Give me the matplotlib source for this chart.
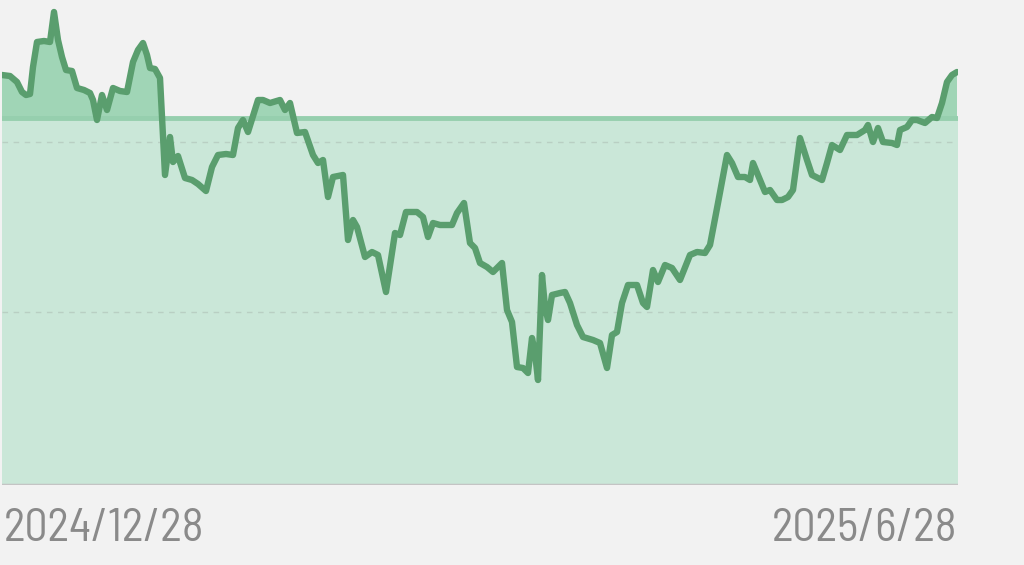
import matplotlib
matplotlib.use("Agg")
import matplotlib.pyplot as plt
import numpy as np

# ---- data (time in chart units across 2024/12/28 .. 2025/6/28, value = price level) ----
t = [2, 10, 17, 22, 26, 30, 33, 37, 44, 50, 54, 58, 62, 66, 72, 77, 84, 90, 93, 97,
     102, 107, 113, 120, 127, 133, 138, 143, 147, 150, 155, 160, 165, 170, 173, 178, 185, 192, 198, 206,
     212, 218, 226, 233, 238, 243, 248, 258, 263, 270, 280, 285, 290, 297, 305, 313, 318, 323, 328, 333,
     343, 348, 353, 357, 365, 372, 378, 386, 395, 400, 406, 417, 423, 428, 433, 440, 452, 457, 464, 470,
     475, 480, 487, 493, 502, 507, 512, 517, 523, 528, 532, 535, 538, 542, 545, 548, 552, 560, 565, 570,
     577, 583, 593, 600, 607, 612, 617, 622, 628, 637, 643, 647, 653, 658, 665, 672, 680, 690, 697, 705,
     710, 718, 727, 732, 738, 745, 750, 753, 760, 765, 770, 777, 782, 788, 793, 800, 807, 812, 822, 827,
     832, 840, 847, 857, 865, 868, 873, 878, 883, 892, 897, 900, 907, 912, 917, 925, 932, 937, 942, 947,
     952, 957]
y_px = [75, 76, 82, 92, 95, 94, 67, 42, 41, 42, 12, 40, 57, 70, 71, 88, 90, 93, 100, 120,
        95, 110, 88, 91, 92, 62, 50, 43, 55, 68, 69, 78, 175, 137, 162, 156, 178, 180, 184, 191,
        167, 155, 154, 155, 128, 120, 132, 100, 100, 103, 100, 110, 103, 133, 132, 155, 163, 160, 197, 177,
        175, 240, 220, 227, 257, 252, 255, 292, 233, 235, 212, 212, 217, 237, 223, 225, 225, 213, 203, 243,
        248, 263, 267, 272, 263, 310, 322, 367, 368, 373, 338, 353, 380, 275, 307, 320, 295, 293, 292, 303,
        325, 337, 340, 343, 368, 335, 332, 303, 285, 285, 303, 307, 270, 282, 265, 268, 280, 255, 252, 253,
        245, 203, 155, 163, 177, 177, 180, 163, 180, 192, 190, 200, 200, 197, 190, 138, 160, 175, 180, 163,
        145, 150, 135, 135, 130, 125, 142, 128, 142, 143, 145, 130, 127, 120, 120, 123, 117, 118, 103, 82,
        75, 72]
price = [(485 - v) / 10 for v in y_px]
ref_price = (485 - 118) / 10
grid_prices = [(485 - 142) / 10, (485 - 312) / 10]
t_start, t_end = 2, 958
label_start = "2024/12/28"
label_end = "2025/6/28"

# ---- styling ----
line_c = "#5a9e6e"
light_fill = "#cae7d8"
dark_fill = "#a0d5b6"
ref_c = "#96cfae"
bg = "#f2f2f2"
text_c = "#8a8a8a"

fig = plt.figure(figsize=(10.24, 5.65), dpi=100, facecolor=bg)
ax = fig.add_axes([t_start / 1024, (565 - 485) / 565, (t_end - t_start) / 1024, 485 / 565])
ax.set_facecolor(bg)
ax.set_xlim(t_start, t_end)
ax.set_ylim(0, 48.5)

tt = np.array(t, dtype=float)
pp = np.array(price)
ax.fill_between([t_start, t_end], 0, ref_price, color=light_fill, lw=0, zorder=1)
ax.fill_between(tt, ref_price, pp, where=pp >= ref_price, interpolate=True,
                color=dark_fill, lw=0, zorder=2)
ax.axhline(ref_price, color=ref_c, lw=3.5, zorder=3)
for g in grid_prices:
    ax.axhline(g, color="#b9cfc3", lw=1.0, ls=(0, (4, 4)), zorder=2)
ax.axhline(0, color="#c4c4c4", lw=2.5, zorder=3)
ax.plot(tt, pp, color=line_c, lw=4.6, solid_joinstyle="round", solid_capstyle="round", zorder=4)

for s in ax.spines.values():
    s.set_visible(False)
ax.set_xticks([])
ax.set_yticks([])

fam = ["Barlow Semi Condensed", "DejaVu Sans"]
fig.text(4 / 1024, 1 - 529 / 565, label_start, ha="left", va="center", fontsize=33,
         color=text_c, family=fam, weight="normal")
fig.text(957 / 1024, 1 - 529 / 565, label_end, ha="right", va="center", fontsize=33,
         color=text_c, family=fam, weight="normal")

fig.savefig("out.png", dpi=100, facecolor=bg)
